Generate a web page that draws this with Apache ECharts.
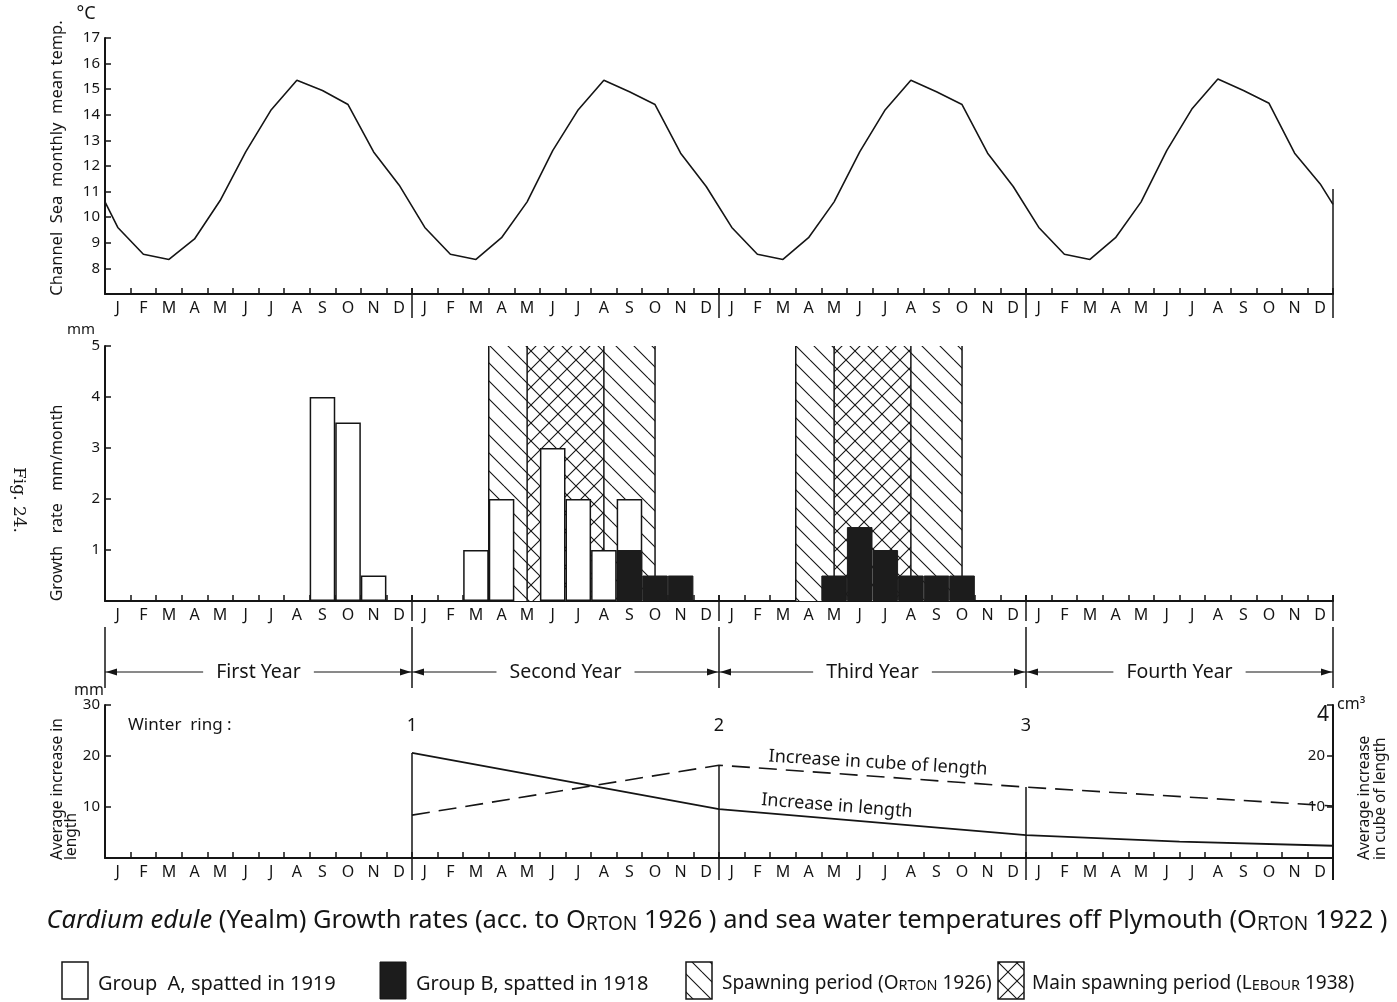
<!DOCTYPE html>
<html><head><meta charset="utf-8">
<script src="https://cdn.jsdelivr.net/npm/echarts@6/dist/echarts.min.js"></script>
<style>html,body{margin:0;padding:0;background:#fff}#c{width:1397px;height:1002px}</style>
</head><body><div id="c"></div>
<script>
// ---------------- data ----------------
const months = ['J','F','M','A','M','J','J','A','S','O','N','D'];
const yearLabels = ['First Year','Second Year','Third Year','Fourth Year'];
const winterRings = ['1','2','3','4'];
// monthly mean sea temperature (°C), plotted at month centres
const tempEdge = [10.6, 10.5]; // value at the left and right edge of the 4-year span
const tempYear1 = [9.6, 8.55, 8.35, 9.15, 10.65, 12.55, 14.2, 15.35, 14.95, 14.4, 12.55, 11.25];
const tempYear2 = [9.6, 8.55, 8.35, 9.2, 10.6, 12.6, 14.2, 15.35, 14.9, 14.4, 12.5, 11.2];
const tempYear3 = [9.6, 8.55, 8.35, 9.2, 10.6, 12.55, 14.2, 15.35, 14.9, 14.4, 12.5, 11.2];
const tempYear4 = [9.6, 8.55, 8.35, 9.2, 10.6, 12.6, 14.25, 15.4, 14.95, 14.45, 12.5, 11.3];
// growth rate mm/month
const groupA = [
  null,null,null,null,null,null,null,null,4,3.5,0.5,null,
  null,null,1,2,null,3,2,1,2,null,null,null,
  null,null,null,null,null,null,null,null,null,null,null,null,
  null,null,null,null,null,null,null,null,null,null,null,null];
const groupB = [
  null,null,null,null,null,null,null,null,null,null,null,null,
  null,null,null,null,null,null,null,null,1,0.5,0.5,null,
  null,null,null,null,0.5,1.45,1,0.5,0.5,0.5,null,null,
  null,null,null,null,null,null,null,null,null,null,null,null];
// spawning periods [start month, end month] on the 0..48 month scale
const spawning = [[15, 21.5], [27, 33.5]];
const mainSpawning = [[16.5, 19.5], [28.5, 31.5]];
// average increase
const lengthInc = [[12, 20.6], [24, 9.6], [36, 4.5], [42, 3.2], [48, 2.4]];
const cubeInc = [[12, 8.4], [24, 18.2], [36, 13.9], [48, 10.2]];

// ---------------- helpers ----------------
const INK = '#151515';
const FILL = '#1c1c1c';
const FONT = 'Noto Sans';
const monthSlots = [];
for (let i = 0; i < 48; i++) monthSlots.push('m' + i);
const tempData = [[0, tempEdge[0]]];
[tempYear1, tempYear2, tempYear3, tempYear4].forEach((yr, y) => {
  yr.forEach((v, m) => tempData.push([y * 12 + m + 0.5, v]));
});
tempData.push([48, tempEdge[1]]);

function makePattern(size, cross) {
  const c = document.createElement('canvas');
  c.width = size; c.height = size;
  const g = c.getContext('2d');
  g.fillStyle = '#fff'; g.fillRect(0, 0, size, size);
  g.strokeStyle = INK; g.lineWidth = 1.1;
  g.beginPath();
  for (let k = -1; k <= 1; k++) { g.moveTo(0, k * size); g.lineTo(size, size + k * size); }
  if (cross) {
    for (let k = 0; k <= 2; k++) { g.moveTo(0, k * size); g.lineTo(size, k * size - size); }
  }
  g.stroke();
  return { image: c, repeat: 'repeat' };
}
const hatch = makePattern(18, false);
const crossHatch = makePattern(18, true);

function catAxis(grid) {
  return {
    type: 'category', gridIndex: grid, data: monthSlots, boundaryGap: true, position: 'bottom',
    axisLine: { lineStyle: { color: INK, width: 2 } },
    axisTick: { show: true, inside: true, length: 6, interval: 0, lineStyle: { color: INK, width: 1.5 } },
    axisLabel: { interval: 0, color: INK, fontFamily: FONT, fontSize: 16, margin: 6,
      formatter: (v, i) => months[i % 12] },
    splitLine: { show: false }
  };
}
function valAxis(grid) {
  return { type: 'value', gridIndex: grid, min: 0, max: 48, show: false, position: 'top' };
}
function yAx(grid, min, max, interval, hide, extra) {
  return Object.assign({
    type: 'value', gridIndex: grid, min, max, interval,
    axisLine: { show: true, lineStyle: { color: INK, width: 2 } },
    axisTick: { show: true, inside: true, length: 6, lineStyle: { color: INK, width: 1.5 } },
    axisLabel: { color: INK, fontFamily: FONT, fontSize: 15, margin: 5,
      formatter: v => (hide.indexOf(v) >= 0 ? '' : String(v)) },
    splitLine: { show: false }
  }, extra || {});
}

const option = {
  animation: false,
  backgroundColor: '#fff',
  grid: [
    { left: 105, right: 64, top: 38, height: 256 },
    { left: 105, right: 64, top: 346, height: 255 },
    { left: 105, right: 64, top: 705, height: 153 }
  ],
  xAxis: [catAxis(0), valAxis(0), catAxis(1), valAxis(1), catAxis(2), valAxis(2)],
  yAxis: [
    yAx(0, 7, 17, 1, [7]),
    yAx(1, 0, 5, 1, [0]),
    yAx(2, 0, 30, 10, [0]),
    yAx(2, 0, 30, 10, [0, 30], { position: 'right',
      axisLabel: { inside: true, color: INK, fontFamily: FONT, fontSize: 15, margin: 8,
        formatter: v => (v === 0 || v === 30 ? '' : String(v)) } })
  ],
  series: [
    { name: 'temp', type: 'line', xAxisIndex: 1, yAxisIndex: 0, data: tempData,
      symbol: 'none', lineStyle: { color: INK, width: 1.6 } },
    { name: 'Spawning period', type: 'custom', xAxisIndex: 3, yAxisIndex: 1, z: 1,
      data: spawning, encode: { x: [0, 1] },
      renderItem: (p, api) => hatchRect(api, hatch) },
    { name: 'Main spawning period', type: 'custom', xAxisIndex: 3, yAxisIndex: 1, z: 1,
      data: mainSpawning, encode: { x: [0, 1] },
      renderItem: (p, api) => hatchRect(api, crossHatch) },
    { name: 'Group A', type: 'bar', xAxisIndex: 2, yAxisIndex: 1, data: groupA, z: 3,
      barWidth: '100%', barGap: '-100%',
      itemStyle: { color: '#fff', borderColor: INK, borderWidth: 1.5 } },
    { name: 'Group B', type: 'bar', xAxisIndex: 2, yAxisIndex: 1, data: groupB, z: 4,
      barWidth: '100%', barGap: '-100%',
      itemStyle: { color: FILL, borderColor: FILL, borderWidth: 1 } },
    { name: 'Increase in length', type: 'line', xAxisIndex: 5, yAxisIndex: 2, data: lengthInc,
      symbol: 'none', lineStyle: { color: INK, width: 1.8 } },
    { name: 'Increase in cube of length', type: 'line', xAxisIndex: 5, yAxisIndex: 3, data: cubeInc,
      symbol: 'none', lineStyle: { color: INK, width: 1.6, type: [18, 9] } }
  ]
};

function hatchRect(api, pattern) {
  const p0 = api.coord([api.value(0), 5]);
  const p1 = api.coord([api.value(1), 0]);
  const ls = { stroke: INK, lineWidth: 1.5 };
  return { type: 'group', children: [
    { type: 'rect', shape: { x: p0[0], y: p0[1], width: p1[0] - p0[0], height: p1[1] - p0[1] },
      style: { fill: pattern } },
    { type: 'line', shape: { x1: p0[0], y1: p0[1], x2: p0[0], y2: p1[1] }, style: ls },
    { type: 'line', shape: { x1: p1[0], y1: p0[1], x2: p1[0], y2: p1[1] }, style: ls }
  ] };
}

const chart = echarts.init(document.getElementById('c'), null, { renderer: 'canvas' });
chart.setOption(option);

// ---------------- annotations placed through the axes ----------------
const X = v => chart.convertToPixel({ xAxisIndex: 1 }, v);
const Y0 = v => chart.convertToPixel({ yAxisIndex: 0 }, v);
const Y1 = v => chart.convertToPixel({ yAxisIndex: 1 }, v);
const Y2 = v => chart.convertToPixel({ yAxisIndex: 2 }, v);
const Y3 = v => chart.convertToPixel({ yAxisIndex: 3 }, v);
const g = [];
const line = (x1, y1, x2, y2, w) => g.push({ type: 'line', silent: true,
  shape: { x1, y1, x2, y2 }, style: { stroke: INK, lineWidth: w || 1.5 } });
const text = (x, y, t, o) => g.push(Object.assign({ type: 'text', x, y, silent: true,
  style: Object.assign({ text: t, fill: INK, fontFamily: FONT, fontSize: 15,
    textAlign: 'center', textVerticalAlign: 'middle' }, (o && o.style) || {}) },
  o ? { rotation: o.rotation || 0 } : {}));

// year dividers
const yTop0 = Y0(7), yTop1 = Y1(0), yBot2 = Y2(0);
for (let k = 1; k <= 3; k++) line(X(12 * k), yTop0 - 6, X(12 * k), yTop0 + 24);
line(X(48), Y0(11.1), X(48), yTop0 + 24);
for (let k = 1; k <= 4; k++) line(X(12 * k), yTop1 - 6, X(12 * k), yTop1 + 20);
// bottom panel drop lines at year ends
for (let k = 1; k <= 3; k++) {
  const xv = 12 * k;
  const a = lengthInc.find(d => d[0] === xv), b = cubeInc.find(d => d[0] === xv);
  const top = Math.min(a ? Y2(a[1]) : yBot2, b ? Y3(b[1]) : yBot2);
  line(X(xv), top, X(xv), yBot2 + 22);
}
line(X(48), yBot2, X(48), yBot2 + 22, 2);
// winter ring labels
text(128, Y2(26), 'Winter  ring :', { style: { textAlign: 'left', fontSize: 17 } });
winterRings.forEach((r, i) => {
  if (i < 3) text(X(12 * (i + 1)), Y2(26), r, { style: { fontSize: 18 } });
  else text(X(48) - 4, Y2(28), r, { style: { textAlign: 'right', fontSize: 21 } });
});
// line labels
text(878, 763, 'Increase in cube of length', { rotation: -0.06, style: { fontSize: 18 } });
text(837, 806, 'Increase in length', { rotation: -0.08, style: { fontSize: 18 } });

// year band
const bandY = 672;
for (let k = 0; k <= 4; k++) line(X(12 * k), 627, X(12 * k), 688, 1.5);
yearLabels.forEach((lab, k) => {
  const xL = X(12 * k), xR = X(12 * k + 12);
  line(xL, bandY, xR, bandY, 1);
  g.push({ type: 'polygon', silent: true, shape: { points: [[xL + 1, bandY], [xL + 12, bandY - 3.5], [xL + 12, bandY + 3.5]] }, style: { fill: INK } });
  g.push({ type: 'polygon', silent: true, shape: { points: [[xR - 1, bandY], [xR - 12, bandY - 3.5], [xR - 12, bandY + 3.5]] }, style: { fill: INK } });
  text((xL + xR) / 2, bandY, lab, { style: { fontSize: 19.5, backgroundColor: '#fff', padding: [2, 13] } });
});

// axis titles
text(86, 14, '°C', { style: { fontSize: 18 } });
text(57, 158, 'Channel  Sea  monthly  mean temp.', { rotation: Math.PI / 2, style: { fontSize: 16.5 } });
text(81, 330, 'mm', { style: { fontSize: 15 } });
text(57, 503, 'Growth   rate   mm/month', { rotation: Math.PI / 2, style: { fontSize: 16 } });
text(89, 690, 'mm', { style: { fontSize: 16 } });
text(65, 860, 'Average increase in\nlength', { rotation: Math.PI / 2, style: { fontSize: 15.5, textAlign: 'left', lineHeight: 14 } });
text(1337, 704, 'cm³', { style: { fontSize: 16, textAlign: 'left' } });
text(1373, 860, 'Average increase\nin cube of length', { rotation: Math.PI / 2, style: { fontSize: 15.5, textAlign: 'left', lineHeight: 16 } });
text(18, 500, 'Fig. 24.', { rotation: -Math.PI / 2, style: { fontSize: 17, fontFamily: 'DejaVu Serif' } });

// title
const sc = { fontFamily: FONT, fontSize: 19, lineHeight: 27, verticalAlign: 'bottom', fill: INK };
const base = { fontFamily: FONT, fontSize: 25.5, lineHeight: 32, verticalAlign: 'bottom', fill: INK };
g.push({ type: 'text', x: 717, y: 918, silent: true, style: {
  text: '{i|Cardium edule}{b| (Yealm) Growth rates (acc. to O}{s|RTON}{b| 1926 ) and sea water temperatures off Plymouth (O}{s|RTON}{b| 1922 )}',
  textAlign: 'center', textVerticalAlign: 'middle', fontFamily: FONT, fontSize: 25.5,
  rich: { i: Object.assign({}, base, { fontStyle: 'italic' }), b: base, s: sc } } });

// legend
const lgY = 962, lgH = 37, lgW = 26;
g.push({ type: 'rect', shape: { x: 62, y: lgY, width: lgW, height: lgH }, style: { fill: '#fff', stroke: INK, lineWidth: 1.5 } });
g.push({ type: 'rect', shape: { x: 380, y: lgY, width: lgW, height: lgH }, style: { fill: FILL, stroke: INK, lineWidth: 1 } });
g.push({ type: 'rect', shape: { x: 686, y: lgY, width: lgW, height: lgH }, style: { fill: hatch, stroke: INK, lineWidth: 1.5 } });
g.push({ type: 'rect', shape: { x: 998, y: lgY, width: lgW, height: lgH }, style: { fill: crossHatch, stroke: INK, lineWidth: 1.5 } });
const legendItems = [[98, '{b|Group  A, spatted in 1919}', 20], [416, '{b|Group B, spatted in 1918}', 20],
 [722, '{b|Spawning period (O}{s|RTON}{b| 1926)}', 19], [1032, '{b|Main spawning period (L}{s|EBOUR}{b| 1938)}', 19]];
legendItems.forEach(([x, t, fs]) => g.push({ type: 'text', x, y: 981, silent: true, style: {
   text: t, textAlign: 'left', textVerticalAlign: 'middle', fontFamily: FONT, fontSize: fs,
   rich: {
     b: { fontFamily: FONT, fontSize: fs, lineHeight: fs * 1.3, verticalAlign: 'bottom', fill: INK },
     s: { fontFamily: FONT, fontSize: fs * 0.76, lineHeight: fs * 1.3 - 3.5, verticalAlign: 'bottom', fill: INK } } } }));

chart.setOption({ graphic: g });
</script></body></html>
